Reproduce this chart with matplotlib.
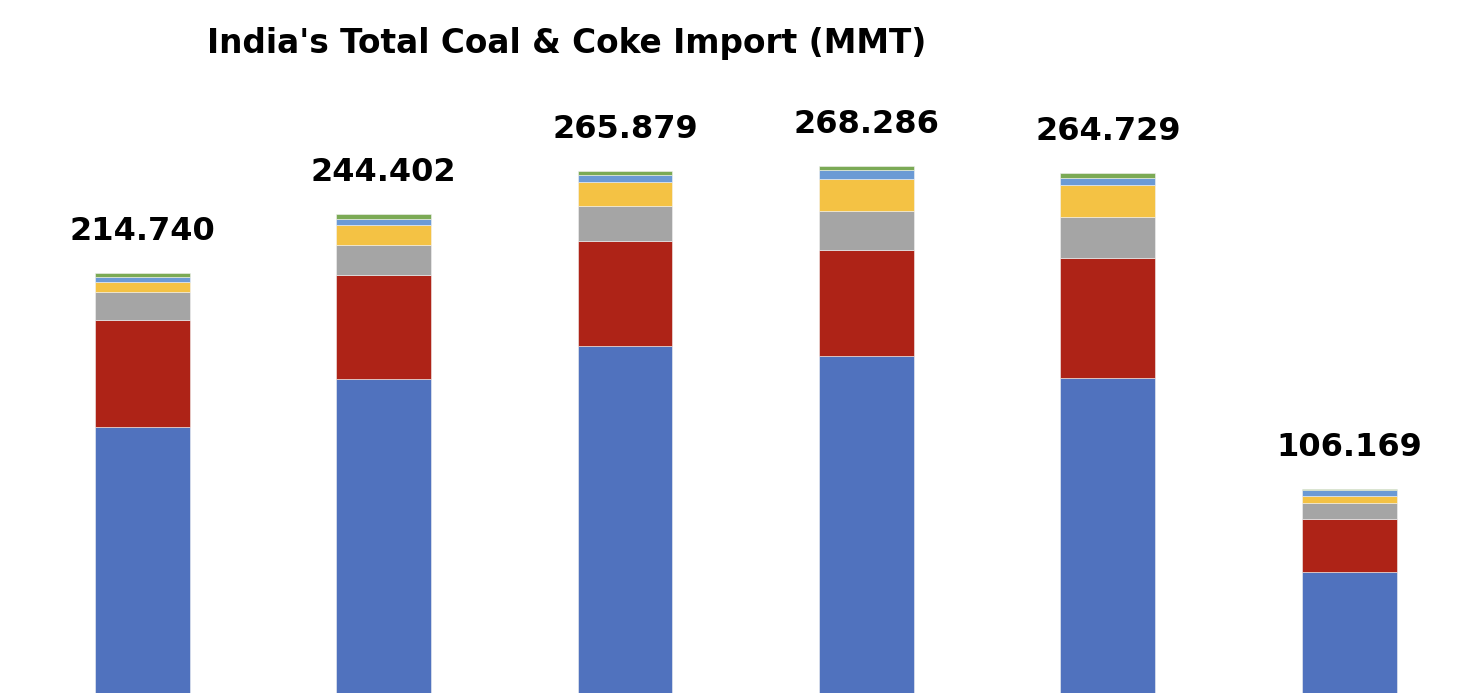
import matplotlib
matplotlib.use('Agg')
from matplotlib import pyplot as plt
import numpy as np

# data (MMT), stacked from the bottom up
categories = ['Year 1', 'Year 2', 'Year 3', 'Year 4', 'Year 5', 'Year 6']
totals = [214.740, 244.402, 265.879, 268.286, 264.729, 106.169]
seg_blue = [137.4, 161.1, 177.8, 173.0, 161.8, 64.5]
seg_red = [53.8, 52.4, 53.1, 53.1, 60.2, 26.5]
seg_gray = [13.9, 15.1, 17.4, 19.9, 20.9, 8.0]
seg_yellow = [5.2, 9.9, 11.8, 15.6, 15.9, 3.7]
seg_lightblue = [2.2, 3.0, 3.5, 5.0, 3.5, 3.0]
seg_green = [2.2, 2.9, 2.3, 1.7, 2.4, 0.5]

series = [seg_blue, seg_red, seg_gray, seg_yellow, seg_lightblue, seg_green]
colors = ['#5072BE', '#AE2317', '#A5A5A5', '#F4C244', '#6B9AD5', '#7BAA55']

fig = plt.figure(figsize=(14.77, 6.93), dpi=100)
ax = fig.add_axes([0, 0, 1, 1])

x = np.arange(len(categories))
bottom = np.zeros(len(categories))
for vals, c in zip(series, colors):
    ax.bar(x, vals, width=0.393, bottom=bottom, color=c,
           edgecolor='#f2f2f2', linewidth=0.4)
    bottom += np.array(vals)

for xi, t in zip(x, totals):
    ax.annotate(f'{t:.3f}', (xi, t), xytext=(0, 30), textcoords='offset points',
                ha='center', va='center', fontsize=23, fontweight='bold')

fig.text(567 / 1477, 1 - 44 / 693, "India's Total Coal & Coke Import (MMT)",
         ha='center', va='center', fontsize=23.6, fontweight='bold')

ax.set_xlim(-0.59, 5.53)
ax.set_ylim(3.5, 351.8)
ax.axis('off')

plt.savefig('out.png', dpi=100)
plt.close()
